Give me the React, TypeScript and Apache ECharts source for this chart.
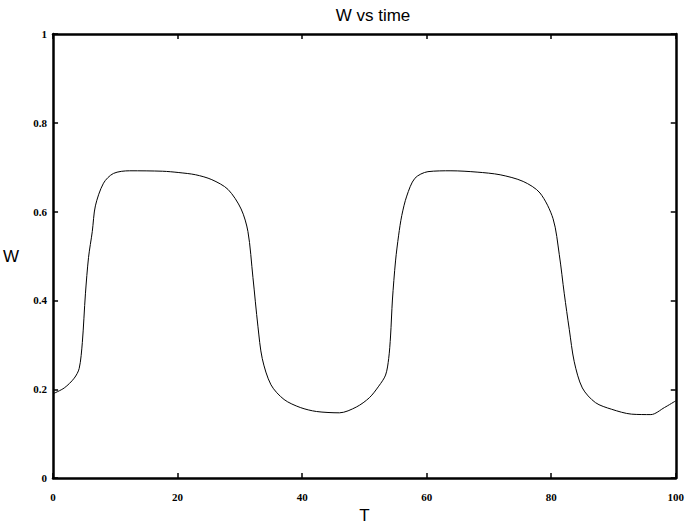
import React, { useEffect, useRef } from "react";
import * as echarts from "echarts";

const tValues = [0, 1.8, 3.4, 4.2, 4.7, 5.2, 5.7, 6.3, 6.8, 8.1, 9.7, 12.3, 17.6, 20.2, 22.9, 25.5, 28.1, 30.2, 31.3, 32.1, 32.9, 33.6, 35.0, 37.1, 39.7, 42.3, 46.0, 48.7, 50.8, 52.3, 53.4, 53.9, 54.2, 54.5, 55.0, 55.5, 56.0, 56.8, 58.1, 60.2, 63.9, 68.1, 71.8, 75.5, 78.2, 80.3, 81.3, 82.1, 82.9, 83.7, 85.0, 87.1, 89.7, 92.9, 96.0, 98.2, 100];
const wValues = [0.19, 0.203, 0.225, 0.247, 0.305, 0.415, 0.497, 0.555, 0.613, 0.664, 0.686, 0.692, 0.691, 0.688, 0.683, 0.672, 0.65, 0.606, 0.555, 0.452, 0.342, 0.269, 0.21, 0.177, 0.159, 0.15, 0.147, 0.16, 0.181, 0.207, 0.232, 0.269, 0.32, 0.401, 0.489, 0.547, 0.591, 0.635, 0.675, 0.69, 0.692, 0.689, 0.683, 0.668, 0.642, 0.584, 0.503, 0.415, 0.335, 0.262, 0.203, 0.17, 0.155, 0.144, 0.143, 0.159, 0.174];
const xTicks = [0, 20, 40, 60, 80, 100];
const yTicks = [0, 0.2, 0.4, 0.6, 0.8, 1];

export default function App() {
  const ref = useRef<HTMLDivElement>(null);
  useEffect(() => {
    const chart = echarts.init(ref.current!, null, { renderer: "svg" });
    const tickFont = { fontFamily: "Liberation Serif", fontWeight: "bold" as const, fontSize: 11, color: "#000" };
    const line = { show: true, onZero: false, lineStyle: { color: "#000", width: 2.5 } };
    const ticks = { show: true, inside: true, length: 5, lineStyle: { color: "#000", width: 1.5 } };
    chart.setOption({
      animation: false,
      backgroundColor: "#fff",
      title: {
        text: "W vs time",
        left: 368,
        textAlign: "center",
        top: 2,
        textStyle: { fontFamily: "Liberation Sans", fontWeight: "normal", fontSize: 17, color: "#000" },
      },
      grid: { left: 52, right: 2, top: 34, bottom: 40 },
      xAxis: [
        {
          type: "value", min: xTicks[0], max: xTicks[xTicks.length - 1], interval: 20, position: "bottom",
          axisLine: line, axisTick: ticks, splitLine: { show: false },
          axisLabel: { ...tickFont, margin: 13, formatter: (v: number) => String(v) },
          name: "T", nameLocation: "middle", nameGap: 28,
          nameTextStyle: { fontFamily: "Liberation Sans", fontSize: 17, color: "#000" },
        },
        {
          type: "value", min: 0, max: 100, interval: 20, position: "top",
          axisLine: line, axisTick: ticks, axisLabel: { show: false }, splitLine: { show: false },
        },
      ],
      yAxis: [
        {
          type: "value", min: yTicks[0], max: yTicks[yTicks.length - 1], interval: 0.2, position: "left",
          axisLine: line, axisTick: ticks, splitLine: { show: false },
          axisLabel: { ...tickFont, margin: 6, formatter: (v: number) => (v === 0 || v === 1 ? String(v) : v.toFixed(1)) },
          name: "W", nameLocation: "middle", nameRotate: 0, nameGap: 34,
          nameTextStyle: { fontFamily: "Liberation Sans", fontSize: 17, color: "#000" },
        },
        {
          type: "value", min: 0, max: 1, interval: 0.2, position: "right",
          axisLine: line, axisTick: ticks, axisLabel: { show: false }, splitLine: { show: false },
        },
      ],
      series: [
        {
          type: "line",
          data: tValues.map((t, i) => [t, wValues[i]]),
          smooth: 0.3,
          showSymbol: false,
          lineStyle: { color: "#000", width: 1 },
        },
      ],
    });
    return () => chart.dispose();
  }, []);
  return <div ref={ref} style={{ width: 687, height: 529, position: "absolute", left: 0, top: 0 }} />;
}
